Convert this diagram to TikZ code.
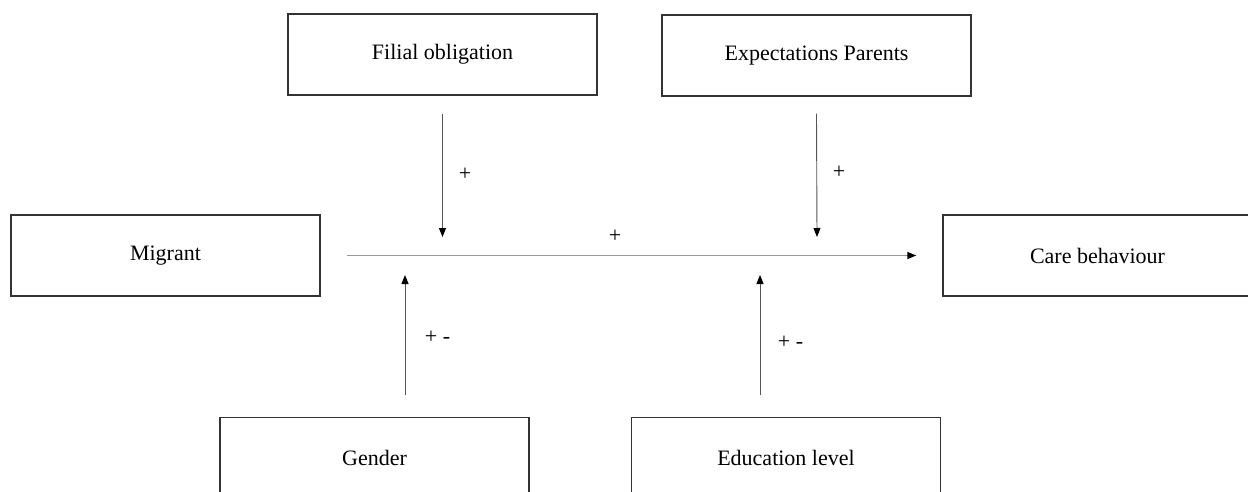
\documentclass[tikz,border=0pt]{standalone}
\usepackage{fontspec}
\setmainfont{Liberation Serif}
\usetikzlibrary{arrows.meta}
\definecolor{boxc}{HTML}{333333}
\definecolor{arrc}{HTML}{555555}
\definecolor{mainc}{HTML}{999999}
\begin{document}
\begin{tikzpicture}[x=1pt,y=-1pt,
  box/.style={draw=boxc, line width=1.5pt, minimum width=309pt, minimum height=81pt, inner sep=0pt, font=\fontsize{22}{26}\selectfont},
  lab/.style={font=\fontsize{22}{26}\selectfont, inner sep=0pt},
  conn/.style={draw=arrc, line width=0.9pt, -{Triangle[length=9pt,width=7pt,color=black]}},
  mainconn/.style={draw=mainc, line width=1.5pt, -{Triangle[length=9pt,width=7pt,color=black]}}]
\useasboundingbox (0,0) rectangle (1248,492);
\clip (0,0) rectangle (1248,492);
\fill[white] (0,0) rectangle (1248,492);

\node[box] (filial) at (442.5,54.5) {Filial obligation};
\node[box] (expect) at (816.5,55.5) {Expectations Parents};
\node[box] (migrant) at (165.5,255.5) {Migrant};
\node[box] (care) at (1097.5,255.5) {Care behaviour};
\node[box] (gender) at (374.5,458) {Gender};
\node[box] (educ) at (786,458) {Education level};

\coordinate (fe) at (442.5,237);
\coordinate (ee) at (817,237);
\coordinate (gs) at (405,395);
\coordinate (ge) at (405,275);
\coordinate (ds) at (760,395);
\coordinate (de) at (760,275);

\draw[conn] ([yshift=-18pt]filial.south) -- (fe);
\draw[conn] ([yshift=-17pt]expect.south) -- (ee);
\draw[mainconn] ([xshift=26pt]migrant.east) -- ([xshift=-26pt]care.west);
\draw[conn] (gs) -- (ge);
\draw[conn] (ds) -- (de);

\node[lab] (p1) at (465,174) {+};
\node[lab] (p2) at (839,172) {+};
\node[lab] (p3) at (615,236) {+};
\node[lab] (p4) at (437.5,337) {+ -};
\node[lab] (p5) at (790.5,342) {+ -};
\end{tikzpicture}
\end{document}
